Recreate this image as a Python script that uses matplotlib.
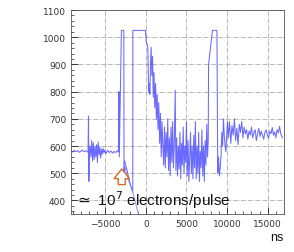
import numpy as np
import matplotlib
matplotlib.use('Agg')
import matplotlib.pyplot as plt

# waveform (time in ns, signal in mV-ish units)
t_pre = [-9200, -9000, -8800, -8600, -8400, -8200, -8000, -7800, -7600, -7400, -7200, -7100,
         -7050, -7000, -6950, -6850, -6750, -6650, -6550, -6450, -6350, -6250, -6150, -6050,
         -5950, -5850, -5750, -5650, -5550, -5450, -5350, -5250, -5150, -5050, -4900, -4700,
         -4500, -4300, -4100, -3900, -3700, -3500, -3350]
v_pre = [582, 578, 584, 579, 583, 577, 581, 585, 579, 583, 578, 580,
         710, 470, 585, 600, 560, 620, 545, 612, 550, 598, 560, 605,
         540, 615, 568, 596, 556, 588, 570, 592, 575, 586, 572, 584,
         576, 582, 574, 580, 576, 583, 578]

t_burst = [-3300, -3260, -3000, -2700, -2680, -2600, -2300, -2000, -1700, -1600,
           -1590, -1200, -800, -400, -50, 50, 150, 250, 300, 340, 420, 500, 580, 660,
           740, 830, 920, 1010, 1100, 1200, 1300, 1400, 1500, 1600, 1700, 1800, 1900,
           2000, 2100, 2200, 2300, 2400, 2500, 2600, 2700, 2800, 2900, 3000, 3100, 3200,
           3300, 3400, 3500, 3620, 3700, 3800, 3900, 4000, 4100, 4200, 4300, 4400, 4500,
           4600, 4700, 4800, 4900, 5000, 5100, 5200, 5300, 5400, 5500, 5600, 5700, 5800,
           5900, 6000, 6100, 6200, 6300, 6400, 6500, 6600, 6700, 6800, 6900, 7000, 7100,
           7200, 7300, 7400, 7500, 7600, 7680, 7720, 8200, 8700, 8750, 8850, 8950, 9050,
           9150, 9250, 9350, 9450, 9550, 9650, 9750, 9850, 9950, 10050, 10150]
v_burst = [800, 560, 1025, 1025, 500, 545, 510, 470, 440, 430,
           1025, 1025, 1025, 1025, 1025, 985, 975, 965, 880, 800, 830, 790, 900, 963,
           860, 930, 780, 870, 740, 830, 700, 790, 660, 760, 610, 720, 560,
           690, 600, 530, 670, 520, 650, 560, 700, 510, 630, 490, 670, 540,
           690, 520, 600, 805, 510, 630, 490, 600, 515, 650, 480, 610, 530,
           670, 500, 600, 540, 690, 490, 620, 470, 560, 650, 500, 600, 480,
           640, 520, 690, 480, 600, 500, 650, 470, 580, 520, 660, 490, 600,
           470, 620, 530, 680, 560, 620, 900, 1025, 1025, 1025, 500, 560, 490,
           520, 560, 650, 600, 700, 640, 600, 580, 640, 690, 630]

t_tail = [10300, 10450, 10600, 10750, 10900, 11050, 11200, 11350, 11500, 11650, 11800,
          11950, 12100, 12250, 12400, 12550, 12700, 12850, 13000, 13150, 13300, 13450,
          13600, 13750, 13900, 14050, 14200, 14350, 14500, 14650, 14800, 14950, 15100,
          15250, 15400, 15550, 15700, 15850, 16000, 16150, 16300, 16450, 16600, 16800]
v_tail = [690, 610, 675, 640, 700, 620, 665, 605, 680, 650, 690, 630,
          670, 645, 660, 625, 655, 640, 670, 630, 650, 660, 620, 645,
          665, 635, 655, 640, 625, 650, 660, 640, 630, 655, 645, 668,
          640, 652, 630, 660, 648, 672, 645, 630]

# the falling trace under the saturated step
t_fall = [-2700, -2200, -1600, -1300, -900]
v_fall = [540, 480, 430, 395, 350]

t = np.array(t_pre + t_burst + t_tail, dtype=float)
v = np.array(v_pre + v_burst + v_tail, dtype=float)

fig = plt.figure(figsize=(2.94, 2.53), dpi=100)
ax = fig.add_axes([0.2415, 0.150, 0.7245, 0.8065])

ax.plot(t, v, color='#5050ff', lw=0.75, alpha=0.85)
ax.plot(t_fall, v_fall, color='#9090ff', lw=0.7)

ax.set_xlim(-9200, 17000)
ax.set_ylim(350, 1100)
ax.set_xticks([-5000, 0, 5000, 10000, 15000])
ax.set_yticks(range(400, 1101, 100))
ax.set_yticks(range(360, 1101, 20), minor=True)
ax.set_xticks(range(-9000, 17001, 1000), minor=True)
ax.tick_params(axis='both', which='major', labelsize=6.5, labelcolor='#333333',
               direction='in', length=5, width=0.6, color='#222222')
ax.tick_params(axis='both', which='minor', direction='in', length=2.5, width=0.5,
               color='#222222')
ax.grid(True, which='major', color='#999999', ls='-.', lw=0.5)
for s in ax.spines.values():
    s.set_color('#555555')
    s.set_linewidth(0.6)

ax.text(-8700, 405, '$\\simeq$ 10$^7$ electrons/pulse', fontsize=11,
        family='Liberation Sans', va='center', ha='left', color='#111111')

ax.annotate('', xy=(-2960, 526), xytext=(-2960, 448),
            arrowprops=dict(arrowstyle='simple,head_length=0.7,head_width=1.1,tail_width=0.5',
                            fc='white', ec='#d86a2a', lw=1.0))

fig.text(0.965, 0.06, 'ns', fontsize=9, family='Liberation Sans', ha='right',
         va='center', color='#111111')

fig.savefig('out.png', dpi=100)
